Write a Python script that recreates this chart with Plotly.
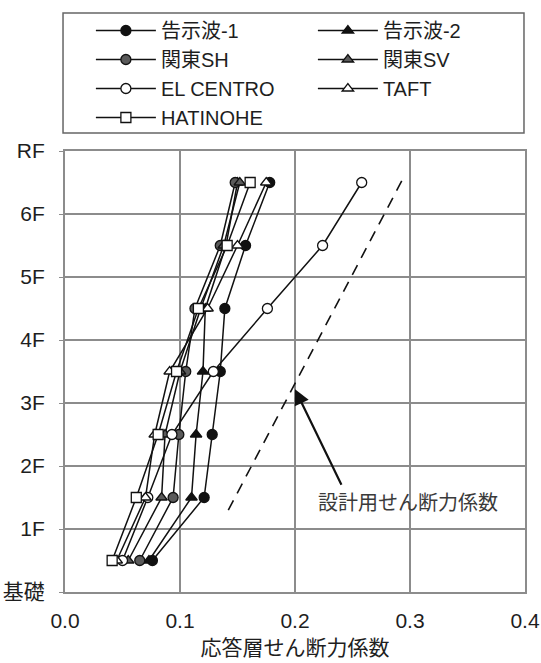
import plotly.graph_objects as go

# Story positions (mid-height of each story) and floor tick labels
story_y = [0.5, 1.5, 2.5, 3.5, 4.5, 5.5, 6.5]
floor_vals = [0, 1, 2, 3, 4, 5, 6, 7]
floor_text = ["基礎", "1F", "2F", "3F", "4F", "5F", "6F", "RF"]

# Response story shear coefficients per input wave
kokuji1 = [0.076, 0.121, 0.128, 0.135, 0.139, 0.157, 0.178]
kokuji2 = [0.073, 0.110, 0.114, 0.120, 0.122, 0.140, 0.150]
kanto_sh = [0.065, 0.094, 0.099, 0.105, 0.113, 0.135, 0.148]
kanto_sv = [0.055, 0.084, 0.087, 0.100, 0.118, 0.138, 0.152]
el_centro = [0.050, 0.072, 0.093, 0.129, 0.176, 0.224, 0.258]
taft = [0.045, 0.070, 0.078, 0.091, 0.124, 0.150, 0.175]
hatinohe = [0.041, 0.062, 0.081, 0.097, 0.116, 0.141, 0.161]

# Design shear coefficient line
design_y = [1.3, 6.6]
design_coef = [0.142, 0.295]

x_ticks = [0.0, 0.1, 0.2, 0.3, 0.4]

FONT = "Liberation Sans, Arial, Noto Sans CJK JP, sans-serif"
TXT = "#1e1e1e"
GRID = "#8c8c8c"

series = [
    ("告示波-1", kokuji1, "circle", "#111111"),
    ("告示波-2", kokuji2, "triangle-up", "#111111"),
    ("関東SH", kanto_sh, "circle", "#5a5a5a"),
    ("関東SV", kanto_sv, "triangle-up", "#5a5a5a"),
    ("EL CENTRO", el_centro, "circle", "#ffffff"),
    ("TAFT", taft, "triangle-up", "#ffffff"),
    ("HATINOHE", hatinohe, "square", "#ffffff"),
]

fig = go.Figure()
for name, vals, sym, fill in series:
    fig.add_trace(go.Scatter(
        x=vals, y=story_y, name=name, mode="lines+markers",
        line=dict(color="#111111", width=1.5),
        marker=dict(symbol=sym, size=10, color=fill,
                    line=dict(color="#111111", width=1.3)),
    ))

fig.add_trace(go.Scatter(
    x=design_coef, y=design_y, mode="lines", showlegend=False,
    line=dict(color="#111111", width=1.6, dash="11px,8px"),
))

# Arrow pointing at the design line
fig.add_annotation(
    x=0.2, y=3.22, ax=0.241, ay=1.68, axref="x", ayref="y",
    text="", showarrow=True, arrowhead=2, arrowsize=1.4,
    arrowwidth=2.2, arrowcolor="#111111",
)
fig.add_annotation(
    x=0.298, y=1.41, text="設計用せん断力係数", showarrow=False,
    font=dict(family=FONT, size=20, color="#3a3a3a"),
)

# Frame around the legend block
fig.add_shape(
    type="rect", xref="paper", yref="paper",
    x0=-0.0043, x1=0.9978, y0=1.0408, y1=1.3129,
    line=dict(color="#666666", width=1.5), fillcolor="rgba(0,0,0,0)",
)

fig.update_xaxes(
    range=[0, 0.4], tickvals=x_ticks, tickformat=".1f",
    showgrid=True, gridcolor=GRID, gridwidth=1.6,
    showline=True, linecolor=GRID, linewidth=2, mirror=True,
    zeroline=False, ticks="outside", ticklen=2, tickcolor="rgba(0,0,0,0)",
    ticklabelstandoff=7, automargin=False,
    tickfont=dict(family=FONT, size=21, color=TXT),
    title=dict(text="応答層せん断力係数", standoff=9,
               font=dict(family=FONT, size=21, color=TXT)),
)
fig.update_yaxes(
    range=[0, 7], tickvals=floor_vals, ticktext=floor_text,
    showgrid=True, gridcolor=GRID, gridwidth=1.6,
    showline=True, linecolor=GRID, linewidth=2, mirror=True,
    zeroline=False, ticks="outside", ticklen=4, tickcolor=GRID,
    ticklabelstandoff=10, automargin=False,
    tickfont=dict(family=FONT, size=21, color=TXT),
)

fig.update_layout(
    width=541, height=663,
    margin=dict(l=65, r=16, t=151, b=71, autoexpand=False),
    paper_bgcolor="white", plot_bgcolor="white",
    font=dict(family=FONT, size=21, color=TXT),
    legend=dict(
        orientation="h", x=1.0215, y=1.3175, xanchor="right", yanchor="top",
        entrywidth=147, entrywidthmode="pixels",
        borderwidth=0, bgcolor="rgba(0,0,0,0)",
        font=dict(family=FONT, size=20, color=TXT),
        itemwidth=60, tracegroupgap=0,
    ),
)

fig.write_html("out.html")
